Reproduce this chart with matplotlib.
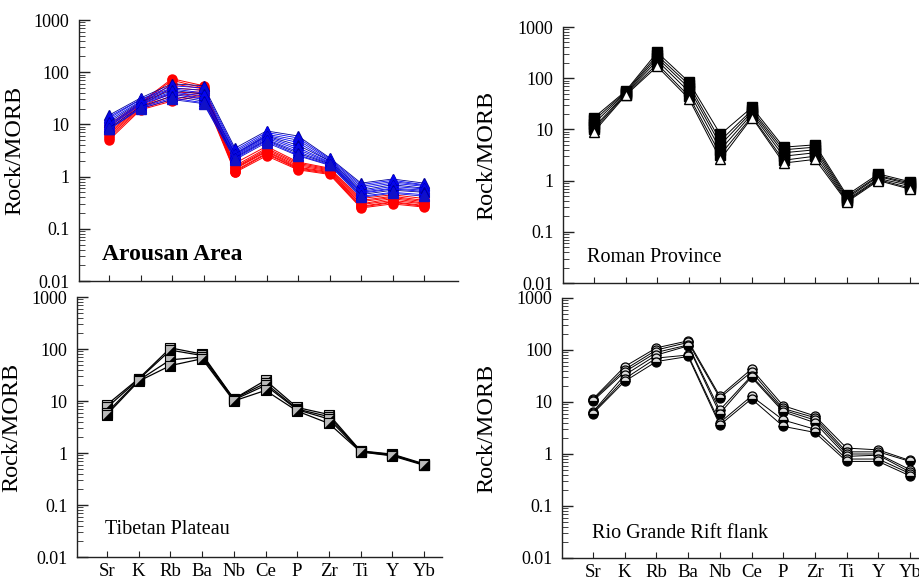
import matplotlib
matplotlib.use("Agg")
import matplotlib.pyplot as plt
import numpy as np

plt.rcParams['font.family'] = ['Liberation Serif', 'DejaVu Serif']

elements = ["Sr", "K", "Rb", "Ba", "Nb", "Ce", "P", "Zr", "Ti", "Y", "Yb"]
ytick_vals = [0.01, 0.1, 1, 10, 100, 1000]
ytick_labels = ["0.01", "0.1", "1", "10", "100", "1000"]

# Arousan Area - red circles
arousan_red = [
    [10.0, 26, 75, 55, 1.8, 3.8, 1.9, 1.45, 0.38, 0.45, 0.38],
    [9.0, 25, 70, 50, 1.6, 3.5, 1.8, 1.40, 0.35, 0.42, 0.35],
    [8.0, 24, 60, 48, 1.5, 3.3, 1.7, 1.35, 0.33, 0.40, 0.33],
    [7.0, 23, 50, 45, 1.45, 3.1, 1.6, 1.30, 0.30, 0.38, 0.31],
    [6.5, 22, 40, 42, 1.4, 3.0, 1.5, 1.25, 0.29, 0.35, 0.30],
    [6.0, 21, 35, 40, 1.3, 2.8, 1.45, 1.20, 0.27, 0.33, 0.28],
    [5.5, 20, 30, 38, 1.25, 2.7, 1.4, 1.15, 0.26, 0.32, 0.27],
    [5.0, 19, 28, 35, 1.2, 2.5, 1.35, 1.10, 0.25, 0.30, 0.26],
]
# Arousan Area - blue triangles
arousan_blue = [
    [15.0, 32, 60, 55, 3.5, 7.5, 6.0, 2.3, 0.75, 0.90, 0.75],
    [14.0, 30, 55, 50, 3.2, 7.0, 5.5, 2.2, 0.70, 0.85, 0.70],
    [13.0, 30, 50, 45, 3.0, 6.5, 5.0, 2.1, 0.65, 0.80, 0.68],
    [12.0, 28, 48, 40, 2.8, 6.2, 4.5, 2.0, 0.60, 0.75, 0.65],
    [11.0, 27, 45, 38, 2.7, 6.0, 4.0, 2.0, 0.55, 0.70, 0.60],
    [10.0, 26, 42, 35, 2.6, 5.8, 3.6, 1.9, 0.52, 0.65, 0.58],
    [9.5, 25, 40, 32, 2.5, 5.5, 3.3, 1.85, 0.50, 0.60, 0.55],
    [9.0, 24, 38, 30, 2.4, 5.2, 3.0, 1.8, 0.48, 0.58, 0.52],
    [8.5, 22, 35, 28, 2.3, 5.0, 2.8, 1.75, 0.45, 0.55, 0.50],
    [8.0, 21, 32, 26, 2.2, 4.8, 2.6, 1.7, 0.42, 0.50, 0.45],
    [8.0, 20, 30, 25, 2.1, 4.5, 2.5, 1.65, 0.40, 0.48, 0.42],
]
# Roman Province
roman = [
    [17.0, 56, 320, 85, 8.0, 27, 4.5, 5.0, 0.52, 1.35, 0.95],
    [15.0, 54, 280, 75, 6.0, 24, 4.0, 4.5, 0.48, 1.25, 0.90],
    [13.0, 52, 250, 65, 5.0, 22, 3.5, 4.0, 0.45, 1.20, 0.85],
    [11.0, 50, 220, 55, 4.0, 20, 3.0, 3.5, 0.42, 1.10, 0.80],
    [10.0, 48, 190, 45, 3.2, 18, 2.5, 3.0, 0.40, 1.05, 0.72],
    [9.0, 46, 170, 40, 2.6, 17, 2.2, 2.6, 0.38, 1.00, 0.68],
]
# Tibetan Plateau
tibet = [
    [8.5, 27, 105, 80, 11.0, 25, 7.5, 5.5, 1.10, 0.95, 0.62],
    [7.5, 26, 95, 75, 11.0, 22, 7.0, 5.0, 1.08, 0.93, 0.60],
    [6.0, 25, 62, 70, 10.5, 20, 6.8, 4.5, 1.06, 0.90, 0.60],
    [5.5, 24, 48, 65, 10.0, 16, 6.4, 3.7, 1.05, 0.88, 0.58],
]
# Rio Grande Rift flank
rio = [
    [11.5, 48, 110, 150, 13.0, 43, 8.5, 5.4, 1.30, 1.20, 0.75],
    [11.0, 42, 100, 140, 12.0, 38, 7.5, 5.0, 1.10, 1.10, 0.72],
    [10.5, 38, 90, 125, 7.0, 32, 7.0, 4.5, 1.00, 1.00, 0.50],
    [6.5, 33, 80, 120, 6.0, 30, 6.5, 4.0, 0.90, 0.95, 0.45],
    [6.2, 28, 70, 80, 4.0, 13, 4.5, 3.0, 0.80, 0.80, 0.42],
    [6.0, 25, 60, 75, 3.6, 11.5, 3.4, 2.6, 0.72, 0.72, 0.38],
]

W, H = 919, 582
fig = plt.figure(figsize=(W / 100, H / 100), dpi=100)


def make_ax(left_px, right_px, top_px, bottom_px, sr_px, step_px):
    ax = fig.add_axes([left_px / W, 1 - bottom_px / H,
                       (right_px - left_px) / W, (bottom_px - top_px) / H])
    ax.set_yscale('log')
    ax.set_ylim(0.01, 1000)
    ax.set_xlim((left_px - sr_px) / step_px, (right_px - sr_px) / step_px)
    ax.spines['top'].set_visible(False)
    ax.spines['right'].set_visible(False)
    for s in ('left', 'bottom'):
        ax.spines[s].set_linewidth(1.0)
        ax.spines[s].set_color('#222222')
    ax.set_yticks(ytick_vals)
    ax.set_yticklabels(ytick_labels)
    ax.yaxis.set_minor_locator(matplotlib.ticker.LogLocator(base=10, subs=np.arange(2, 10)))
    ax.yaxis.set_minor_formatter(matplotlib.ticker.NullFormatter())
    ax.tick_params(axis='y', which='major', direction='in', length=8, width=1,
                   labelsize=13, pad=7, color='#222222')
    ax.tick_params(axis='y', which='minor', direction='in', length=4, width=0.7,
                   color='#444444')
    ax.set_xticks(range(len(elements)))
    ax.set_xticklabels(elements)
    ax.tick_params(axis='x', direction='in', length=4, width=0.8, labelsize=13.5,
                   pad=4, color='#222222')
    return ax


ax1 = make_ax(79, 458, 20, 281, 109, 31.5)
ax2 = make_ax(563, 919, 27, 283, 594, 31.6)
ax3 = make_ax(77, 442, 297, 557, 107, 31.7)
ax4 = make_ax(562, 919, 298, 558, 593, 31.7)
for ax in (ax1, ax2):
    ax.tick_params(axis='x', labelbottom=False)

x = np.arange(len(elements))

# Panel 1
for s in arousan_red:
    ax1.plot(x, s, color='red', lw=0.7, marker='o', ms=6.5, mfc='red', mec='red')
blue_cols = ['#00009a', 'blue', '#1010c8', 'blue']
for i, s in enumerate(arousan_blue):
    c = blue_cols[i % len(blue_cols)]
    ax1.plot(x, s, color=c, lw=0.6, marker='^', ms=7, mfc=c, mec=c)
ax1.text(0.061, 0.10, "Arousan Area", transform=ax1.transAxes, fontsize=17,
         fontweight='bold', va='center', ha='left')

# Panel 2
for i, s in enumerate(roman):
    if i == len(roman) - 1:
        ax2.plot(x, s, color='black', lw=0.7, marker='^', ms=7.5, mfc='white', mec='black')
    else:
        ax2.plot(x, s, color='black', lw=0.7, marker='s', ms=7.5, mfc='black', mec='black')
ax2.text(0.067, 0.10, "Roman Province", transform=ax2.transAxes, fontsize=14.5,
         va='center', ha='left')

# Panel 3
tri = [(-1, -1), (1, -1), (1, 1), (-1, -1)]
for s in tibet:
    ax3.plot(x, s, color='black', lw=0.9, marker='s', ms=7, mfc='#bbbbbb', mec='black',
             mew=0.8)
    ax3.plot(x, s, linestyle='none', marker=tri, ms=7, mfc='black', mec='black', mew=0.3)
ax3.text(0.077, 0.104, "Tibetan Plateau", transform=ax3.transAxes, fontsize=14.5,
         va='center', ha='left')

# Panel 4
for s in rio:
    ax4.plot(x, s, color='black', lw=0.7, marker='o', ms=6.5, mfc='black', mec='black',
             fillstyle='bottom', markerfacecoloralt='#dddddd', mew=0.9)
ax4.text(0.084, 0.096, "Rio Grande Rift flank", transform=ax4.transAxes, fontsize=14.5,
         va='center', ha='left')

label_x = {ax1: -0.1425, ax2: -0.185, ax3: -0.15, ax4: -0.182}
for ax, lx in label_x.items():
    ax.set_ylabel("Rock/MORB", fontsize=17.5)
    ax.yaxis.set_label_coords(lx, 0.5)

fig.savefig("out.png", dpi=100)
